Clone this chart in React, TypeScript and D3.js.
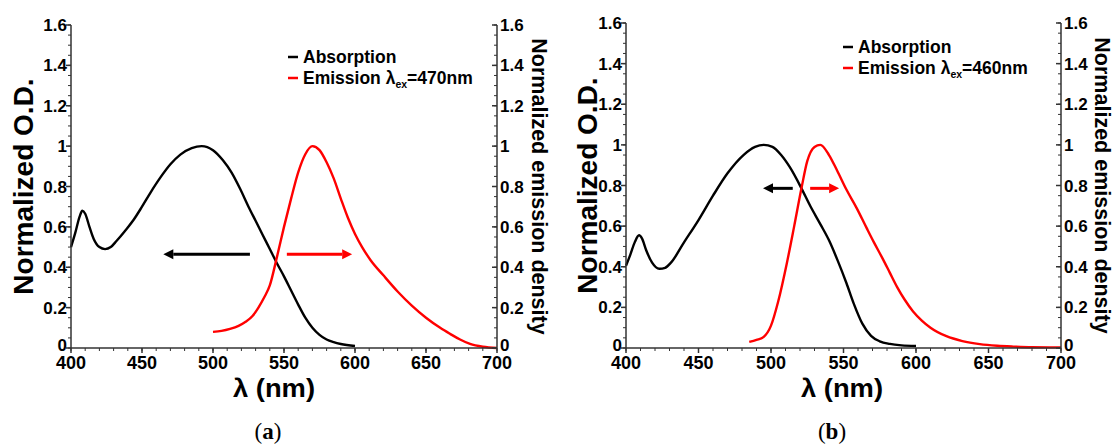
import * as d3 from 'd3';

// [wavelength nm, normalized value]
const absorptionA: [number, number][] = [
  [400, 0.5], [403, 0.57], [406, 0.65], [408, 0.68], [410, 0.665], [413, 0.6], [416, 0.54],
  [420, 0.5], [424, 0.49], [428, 0.5], [432, 0.53], [438, 0.58], [444, 0.634], [450, 0.7],
  [456, 0.77], [463, 0.845], [470, 0.91], [477, 0.958], [485, 0.99], [492, 1.0], [500, 0.98],
  [507, 0.93], [513, 0.87], [519, 0.79], [525, 0.7], [530, 0.63], [535, 0.56], [540, 0.49],
  [545, 0.42], [550, 0.355], [555, 0.285], [560, 0.215], [565, 0.15], [570, 0.1], [575, 0.065],
  [580, 0.042], [585, 0.029], [590, 0.02], [600, 0.01],
];
const emissionA: [number, number][] = [
  [500, 0.08], [506, 0.085], [512, 0.095], [518, 0.11], [523, 0.13], [528, 0.16], [532, 0.2],
  [536, 0.25], [540, 0.31], [545, 0.45], [550, 0.6], [555, 0.74], [560, 0.87], [565, 0.96],
  [570, 1.0], [575, 0.98], [580, 0.92], [585, 0.84], [590, 0.74], [595, 0.645], [600, 0.565],
  [605, 0.5], [611, 0.435], [620, 0.36], [630, 0.28], [640, 0.21], [650, 0.15], [660, 0.1],
  [667, 0.07], [674, 0.042], [681, 0.02], [690, 0.006], [700, 0.0],
];
const absorptionB: [number, number][] = [
  [400, 0.405], [403, 0.46], [406, 0.52], [409, 0.555], [411, 0.54], [414, 0.48], [418, 0.42],
  [423, 0.39], [427, 0.395], [431, 0.42], [440, 0.52], [450, 0.63], [460, 0.75], [470, 0.86],
  [481, 0.95], [489, 0.99], [495, 1.0], [501, 0.99], [507, 0.95], [513, 0.89], [521, 0.786],
  [527, 0.7], [534, 0.61], [540, 0.53], [546, 0.43], [552, 0.32], [557, 0.22], [563, 0.12],
  [569, 0.06], [575, 0.033], [582, 0.02], [590, 0.013], [600, 0.01],
];
const emissionB: [number, number][] = [
  [485, 0.03], [490, 0.04], [495, 0.055], [500, 0.11], [505, 0.23], [511, 0.42], [516, 0.6],
  [521, 0.786], [525, 0.92], [530, 0.99], [534, 1.0], [540, 0.95], [545.5, 0.875], [552, 0.78],
  [559, 0.69], [566, 0.59], [571, 0.52], [577, 0.44], [582, 0.37], [587, 0.3], [592, 0.24],
  [598, 0.18], [604, 0.135], [610, 0.1], [621, 0.058], [632, 0.034], [644, 0.019], [656, 0.011],
  [667, 0.007], [680, 0.004], [700, 0.003],
];

const yMajor = [0, 0.2, 0.4, 0.6, 0.8, 1, 1.2, 1.4, 1.6];
const yMinor = d3.range(0, 1.6001, 0.05);
const xMajor = [400, 450, 500, 550, 600, 650, 700];
const xMinor = d3.range(400, 701, 10);

const SANS = '"Liberation Sans", Arial, sans-serif';

interface Arrow { y: number; from: number; to: number; color: string }

interface PanelProps {
  left: number; right: number; top: number; bottom: number;
  absorption: [number, number][];
  emission: [number, number][];
  excitation: string;
  arrows: Arrow[];
  legendX: number; legendY: number;
  yTitleX: number; rTitleX: number;
  xTitleX: number; tagX: number;
  tag: string;
}

function Panel(p: PanelProps) {
  const x = d3.scaleLinear().domain([400, 700]).range([p.left, p.right]);
  const y = d3.scaleLinear().domain([0, 1.6]).range([p.bottom, p.top]);
  const line = d3.line<[number, number]>()
    .x(d => x(d[0]))
    .y(d => y(d[1]))
    .curve(d3.curveMonotoneX);
  const midY = (p.top + p.bottom) / 2;
  const axisColor = '#333';

  return (
    <g>
      {/* curves */}
      <path d={line(p.absorption) ?? ''} fill="none" stroke="#000" strokeWidth={2.4} />
      <path d={line(p.emission) ?? ''} fill="none" stroke="#ff0000" strokeWidth={2.4} />

      {/* arrows */}
      {p.arrows.map((a, i) => {
        const dir = Math.sign(a.to - a.from);
        const tip = x(a.to);
        const base = tip - dir * 10;
        const yy = y(a.y);
        return (
          <g key={i}>
            <line x1={x(a.from)} x2={base} y1={yy} y2={yy} stroke={a.color} strokeWidth={3} />
            <path d={`M${tip},${yy} L${base},${yy - 5} L${base},${yy + 5} Z`} fill={a.color} />
          </g>
        );
      })}

      {/* left axis */}
      <line x1={p.left} x2={p.left} y1={p.top} y2={p.bottom} stroke={axisColor} strokeWidth={1.5} />
      {yMinor.map((v, i) => (
        <line key={'lm' + i} x1={p.left - 3} x2={p.left} y1={y(v)} y2={y(v)} stroke={axisColor} strokeWidth={1} />
      ))}
      {yMajor.map(v => (
        <g key={'l' + v}>
          <line x1={p.left - 5} x2={p.left} y1={y(v)} y2={y(v)} stroke={axisColor} strokeWidth={1.5} />
          <text x={p.left - 4} y={v === 0 ? y(v) - 3 : y(v)} dy="0.36em" textAnchor="end" fontSize={17} fontWeight="bold" fontFamily={SANS}>{String(v)}</text>
        </g>
      ))}

      {/* right axis */}
      <line x1={p.right} x2={p.right} y1={p.top} y2={p.bottom} stroke={axisColor} strokeWidth={1.5} />
      {yMinor.map((v, i) => (
        <line key={'rm' + i} x1={p.right - 3} x2={p.right} y1={y(v)} y2={y(v)} stroke={axisColor} strokeWidth={1} />
      ))}
      {yMajor.map(v => (
        <g key={'r' + v}>
          <line x1={p.right - 5} x2={p.right} y1={y(v)} y2={y(v)} stroke={axisColor} strokeWidth={1.5} />
          <text x={p.right + 3} y={v === 0 ? y(v) - 3 : y(v)} dy="0.36em" textAnchor="start" fontSize={17} fontWeight="bold" fontFamily={SANS}>{String(v)}</text>
        </g>
      ))}

      {/* bottom axis */}
      <line x1={p.left} x2={p.right} y1={p.bottom} y2={p.bottom} stroke={axisColor} strokeWidth={1.5} />
      {xMinor.map(v => (
        <line key={'bm' + v} x1={x(v)} x2={x(v)} y1={p.bottom} y2={p.bottom + 3} stroke={axisColor} strokeWidth={1} />
      ))}
      {xMajor.map(v => (
        <g key={'b' + v}>
          <line x1={x(v)} x2={x(v)} y1={p.bottom} y2={p.bottom + 5} stroke={axisColor} strokeWidth={1.5} />
          <text x={x(v)} y={p.bottom + 21} textAnchor="middle" fontSize={18} fontWeight="bold" fontFamily={SANS}>{v}</text>
        </g>
      ))}

      {/* titles */}
      <text transform={`translate(${p.yTitleX},${midY}) rotate(-90)`} textAnchor="middle" fontSize={28} fontWeight="bold" fontFamily={SANS}>Normalized O.D.</text>
      <text transform={`translate(${p.rTitleX},${midY}) rotate(90)`} textAnchor="middle" fontSize={21.5} fontWeight="bold" fontFamily={SANS}>Normalized emission density</text>
      <text x={p.xTitleX} y={p.bottom + 49} textAnchor="middle" fontSize={25} fontWeight="bold" fontFamily={SANS} textLength={82} lengthAdjust="spacingAndGlyphs">λ (nm)</text>
      <text x={p.tagX} y={p.bottom + 91} textAnchor="middle" fontSize={23} fontFamily='"Liberation Serif", "DejaVu Serif", serif'>
        (<tspan fontWeight="bold">{p.tag}</tspan>)
      </text>

      {/* legend */}
      <line x1={p.legendX} x2={p.legendX + 10} y1={p.legendY} y2={p.legendY} stroke="#000" strokeWidth={2.5} />
      <text x={p.legendX + 15} y={p.legendY} dy="0.36em" fontSize={17.5} fontWeight="bold" fontFamily={SANS}>Absorption</text>
      <line x1={p.legendX} x2={p.legendX + 10} y1={p.legendY + 21} y2={p.legendY + 21} stroke="#ff0000" strokeWidth={2.5} />
      <text x={p.legendX + 15} y={p.legendY + 21} dy="0.36em" fontSize={17.5} fontWeight="bold" fontFamily={SANS}>
        Emission λ<tspan fontSize={10.5} dy={4}>ex</tspan><tspan dy={-4}>={p.excitation}</tspan>
      </text>
    </g>
  );
}

export default function App() {
  return (
    <svg width={1113} height={445} style={{ position: 'absolute', left: 0, top: 0, background: '#fff' }}>
      <rect width={1113} height={445} fill="#fff" />
      <Panel
        left={71} right={497} top={25} bottom={348}
        absorption={absorptionA} emission={emissionA} excitation="470nm"
        arrows={[
          { y: 0.465, from: 526, to: 465, color: '#000' },
          { y: 0.465, from: 552, to: 598, color: '#ff0000' },
        ]}
        legendX={288} legendY={57}
        yTitleX={33} rTitleX={532} xTitleX={274} tagX={268} tag="a"
      />
      <Panel
        left={626} right={1061} top={23} bottom={348}
        absorption={absorptionB} emission={emissionB} excitation="460nm"
        arrows={[
          { y: 0.786, from: 515, to: 494.5, color: '#000' },
          { y: 0.786, from: 527, to: 547, color: '#ff0000' },
        ]}
        legendX={843} legendY={47}
        yTitleX={597} rTitleX={1095} xTitleX={842} tagX={832} tag="b"
      />
    </svg>
  );
}
